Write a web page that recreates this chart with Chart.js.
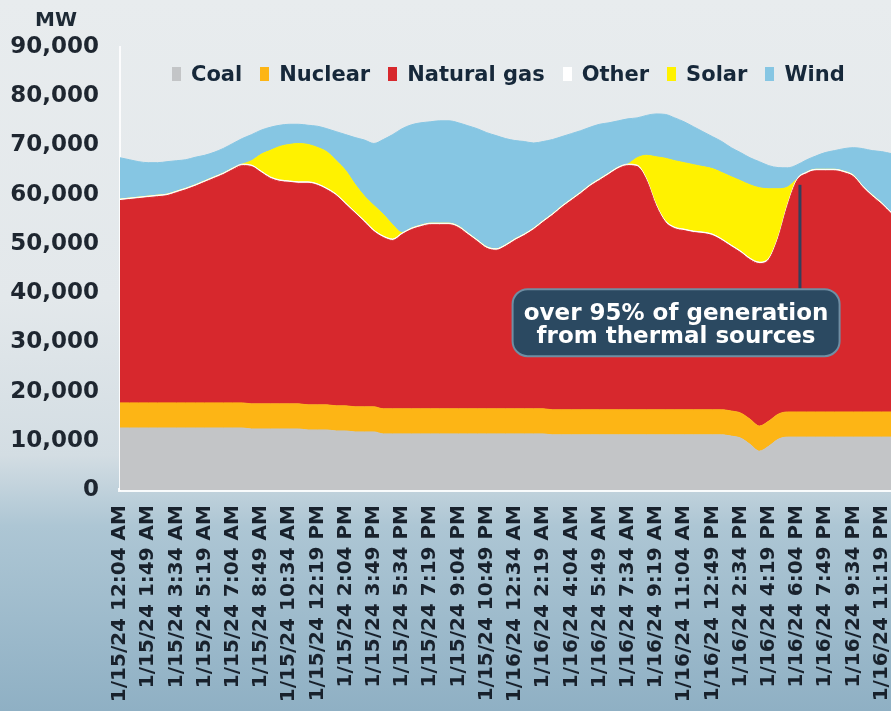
<!DOCTYPE html>
<html>
<head>
<meta charset="utf-8">
<script src="https://cdn.jsdelivr.net/npm/chart.js@4.4.1/dist/chart.umd.min.js"></script>
<style>
  html, body { margin: 0; padding: 0; }
  body {
    width: 891px; height: 711px; overflow: hidden; position: relative;
    background: linear-gradient(180deg, #e8ecee 0%, #e3e8eb 42%, #d3dde3 64%, #adc6d4 74%, #8fb0c4 100%);
    font-family: 'DejaVu Sans', sans-serif;
  }
  #chart { position: absolute; left: 0; top: 0; }
  #unit { position: absolute; left: 35px; top: 7px; font-weight: bold; font-size: 20px; color: #1d2935; }
  #legend { position: absolute; left: 172px; top: 62px; display: flex; align-items: center;
            font-weight: bold; font-size: 21px; color: #16283a; line-height: 24px; white-space: nowrap; }
  #legend .item { display: flex; align-items: center; margin-right: 18px; }
  #legend .box { width: 9px; height: 14px; margin-right: 10px; }
</style>
</head>
<body>
<canvas id="chart" width="891" height="711"></canvas>
<div id="unit">MW</div>
<div id="legend"></div>
<script>
// sample times, minutes after midnight 1/15/24
const sampleMinutes = [4, 39, 74, 109, 144, 179, 214, 249, 284, 319, 354, 389, 424, 459, 494, 529, 564, 599,
  634, 669, 704, 739, 774, 809, 844, 879, 914, 949, 984, 1019, 1054, 1089, 1124, 1159, 1194, 1229, 1264,
  1299, 1334, 1369, 1404, 1439, 1474, 1509, 1544, 1579, 1614, 1649, 1684, 1719, 1754, 1789, 1824, 1859,
  1894, 1929, 1964, 1999, 2034, 2069, 2104, 2139, 2174, 2209, 2244, 2279, 2314, 2349, 2384, 2419, 2454,
  2489, 2524, 2559, 2594, 2629, 2664, 2699, 2734, 2769, 2804, 2839, 2874];

const tickMinutes = [4, 109, 214, 319, 424, 529, 634, 739, 844, 949, 1054, 1159, 1264, 1369, 1474, 1579,
  1684, 1789, 1894, 1999, 2104, 2209, 2314, 2419, 2524, 2629, 2734, 2839];
const tickLabels = ['1/15/24 12:04 AM', '1/15/24 1:49 AM', '1/15/24 3:34 AM', '1/15/24 5:19 AM',
  '1/15/24 7:04 AM', '1/15/24 8:49 AM', '1/15/24 10:34 AM', '1/15/24 12:19 PM', '1/15/24 2:04 PM',
  '1/15/24 3:49 PM', '1/15/24 5:34 PM', '1/15/24 7:19 PM', '1/15/24 9:04 PM', '1/15/24 10:49 PM',
  '1/16/24 12:34 AM', '1/16/24 2:19 AM', '1/16/24 4:04 AM', '1/16/24 5:49 AM', '1/16/24 7:34 AM',
  '1/16/24 9:19 AM', '1/16/24 11:04 AM', '1/16/24 12:49 PM', '1/16/24 2:34 PM', '1/16/24 4:19 PM',
  '1/16/24 6:04 PM', '1/16/24 7:49 PM', '1/16/24 9:34 PM', '1/16/24 11:19 PM'];

const seriesNames = ['Coal', 'Nuclear', 'Natural gas', 'Other', 'Solar', 'Wind'];
const seriesColors = ['#c3c5c7', '#fdb515', '#d7282d', '#ffffff', '#fff200', '#86c6e3'];

// MW
const coal = [12600, 12600, 12600, 12600, 12600, 12600, 12600, 12600, 12600, 12600, 12600, 12600, 12600, 12600,
  12400, 12400, 12400, 12400, 12400, 12400, 12200, 12200, 12200, 12000, 12000, 11800, 11800, 11800,
  11400, 11400, 11400, 11400, 11400, 11400, 11400, 11400, 11400, 11400, 11400, 11400, 11400, 11400, 11400,
  11400, 11400, 11400, 11200, 11200, 11200, 11200, 11200, 11200, 11200, 11200, 11200, 11200, 11200, 11200,
  11200, 11200, 11200, 11200, 11200, 11200, 11200, 10950, 10550, 9300, 7900, 8900, 10300,
  10750, 10750, 10750, 10750, 10750, 10750, 10750, 10750, 10750, 10750, 10750, 10750];
const nuclear = [5100, 5100, 5100, 5100, 5100, 5100, 5100, 5100, 5100, 5100, 5100, 5100, 5100, 5100, 5100, 5100,
  5100, 5100, 5100, 5100, 5100, 5100, 5100, 5100, 5100, 5100, 5100, 5100, 5100, 5100, 5100, 5100, 5100, 5100,
  5100, 5100, 5100, 5100, 5100, 5100, 5100, 5100, 5100, 5100, 5100, 5100, 5100, 5100, 5100, 5100, 5100, 5100,
  5100, 5100, 5100, 5100, 5100, 5100, 5100, 5100, 5100, 5100, 5100, 5100, 5100, 5100, 5100, 5100, 5100, 5100,
  5100, 5100, 5100, 5100, 5100, 5100, 5100, 5100, 5100, 5100, 5100, 5100, 5100];
const naturalGas = [41100, 41300, 41500, 41700, 41900, 42100, 42700, 43300, 44000, 44800,
  45600, 46400, 47400, 48200, 48200, 47000, 45800, 45200, 45000, 44800,
  45000, 44600, 43700, 42700, 40900, 39300, 37500, 35600, 34800, 34200,
  35400, 36400, 37000, 37400, 37400, 37400, 36800, 35400, 34000, 32600,
  32200, 33000, 34200, 35200, 36400, 37900, 39500, 41100, 42500, 43900,
  45400, 46600, 47800, 49000, 49600, 49400, 46600, 41500, 38100, 36800,
  36400, 36000, 35800, 35400, 34400, 33400, 32600, 32400, 33000, 32800,
  35700, 41900, 47000, 48400, 49000, 49000, 49000, 48600, 47800, 45600,
  43800, 42200, 40300];
const other = [300, 300, 300, 300, 300, 300, 300, 300, 300, 300, 300, 300, 300, 300, 300, 300, 300, 300, 300,
  300, 300, 300, 300, 300, 300, 300, 300, 300, 300, 300, 300, 300, 300, 300, 300, 300, 300, 300, 300, 300,
  300, 300, 300, 300, 300, 300, 300, 300, 300, 300, 300, 300, 300, 300, 300, 300, 300, 300, 300, 300, 300,
  300, 300, 300, 300, 300, 300, 300, 300, 300, 300, 300, 300, 300, 300, 300, 300, 300, 300, 300, 300, 300, 300];
const solar = [0, 0, 0, 0, 0, 0, 0, 0, 0, 0, 0, 0, 0, 0,
  900, 3400, 5400, 6800, 7400, 7800, 7600, 7400, 7400, 6800, 6600, 5600, 5000, 5000, 4400, 2900, 100,
  0, 0, 0, 0, 0, 0, 0, 0, 0, 0, 0, 0, 0, 0, 0, 0, 0, 0, 0, 0, 0, 0, 0, 0,
  1500, 4800, 9600, 12700, 13500, 13500, 13500, 13300, 13300, 13500, 13900, 14300, 14900, 15100, 14100, 9800, 3500,
  0, 0, 0, 0, 0, 0, 0, 0, 0, 0, 0];
const wind = [8400, 7800, 7200, 6800, 6600, 6600, 6200, 5800, 5600, 5200,
  5000, 5000, 5000, 5200, 5300, 4900, 4700, 4300, 4100, 3900,
  3900, 4300, 4700, 5900, 7300, 9500, 11400, 12600, 15200, 18300,
  21100, 21000, 20800, 20600, 20800, 20800, 21000, 21800, 22600, 23200,
  23000, 21600, 20000, 18800, 17300, 16100, 15100, 14100, 13300, 12500,
  11700, 11100, 10200, 9400, 9200, 8100, 8100, 8700, 8900, 8700,
  8300, 7700, 7100, 6500, 6300, 5900, 5700, 5500, 5300, 4700,
  4300, 3900, 2900, 2500, 2700, 3400, 3800, 4600, 5600, 7600,
  9000, 10400, 11900];

const seriesValues = [coal, nuclear, naturalGas, other, solar, wind];

const calloutText = ['over 95% of generation', 'from thermal sources'];
const calloutCenter = { x: 2074, y: 34000 };
const calloutAnchor = { x: 2535, y: 62000 };

const calloutPlugin = {
  id: 'callout',
  afterDatasetsDraw(chart) {
    const { ctx, scales: { x, y } } = chart;
    const cx = x.getPixelForValue(calloutCenter.x);
    const cy = y.getPixelForValue(calloutCenter.y);
    const w = 327, h = 67;
    const px = x.getPixelForValue(calloutAnchor.x);
    const py = y.getPixelForValue(calloutAnchor.y);
    ctx.save();
    // pointer up to the evening gas peak
    ctx.strokeStyle = '#33405c';
    ctx.lineWidth = 3;
    ctx.beginPath();
    ctx.moveTo(px, py);
    ctx.lineTo(px, cy - h / 2);
    ctx.stroke();
    ctx.beginPath();
    ctx.roundRect(cx - w / 2, cy - h / 2, w, h, 15);
    ctx.fillStyle = '#2b4961';
    ctx.fill();
    ctx.lineWidth = 2;
    ctx.strokeStyle = '#6f8ea3';
    ctx.stroke();
    ctx.fillStyle = '#ffffff';
    ctx.font = 'bold 23px "DejaVu Sans"';
    ctx.textAlign = 'center';
    ctx.textBaseline = 'middle';
    ctx.fillText(calloutText[0], cx, cy - 9);
    ctx.fillText(calloutText[1], cx, cy + 14);
    ctx.restore();
  }
};

const datasets = seriesNames.map((name, i) => ({
  label: name,
  data: sampleMinutes.map((m, j) => ({ x: m, y: seriesValues[i][j] })),
  backgroundColor: seriesColors[i],
  borderColor: seriesColors[i],
  borderWidth: 1,
  pointRadius: 0,
  fill: i === 0 ? 'origin' : '-1',
  cubicInterpolationMode: 'monotone'
}));

const ctx = document.getElementById('chart').getContext('2d');
const chart = new Chart(ctx, {
  type: 'line',
  data: { datasets: datasets },
  options: {
    responsive: false,
    animation: false,
    layout: { padding: { top: 47, left: 0, right: 0, bottom: 0 } },
    plugins: {
      legend: { display: false },
      tooltip: { enabled: false }
    },
    scales: {
      x: {
        type: 'linear',
        min: sampleMinutes[0],
        max: sampleMinutes[sampleMinutes.length - 1],
        afterBuildTicks: (scale) => { scale.ticks = tickMinutes.map(v => ({ value: v })); },
        afterFit: (scale) => {
          scale.height = 221;
          // the picture is cropped at the right edge, so no room is kept for the last label
          scale.paddingLeft = 0;
          scale.paddingRight = 0;
        },
        ticks: {
          autoSkip: false,
          minRotation: 90,
          maxRotation: 90,
          padding: 15,
          color: '#18212c',
          font: { family: 'DejaVu Sans', size: 20, weight: 'bold' },
          callback: (value, index) => tickLabels[index]
        },
        grid: { display: false, drawTicks: false },
        border: { display: true, color: 'rgba(255,255,255,0.9)', width: 4 }
      },
      y: {
        stacked: true,
        min: 0,
        max: 90000,
        afterFit: (scale) => { scale.width = 120; },
        ticks: {
          stepSize: 10000,
          padding: 21,
          color: '#1e2630',
          font: { family: 'DejaVu Sans', size: 23, weight: 'bold' },
          callback: (value) => value.toLocaleString('en-US')
        },
        grid: { display: false, drawTicks: false },
        border: { display: true, color: 'rgba(255,255,255,0.85)', width: 2 }
      }
    }
  },
  plugins: [calloutPlugin]
});

// legend built from the same names and colours
const legendEl = document.getElementById('legend');
seriesNames.forEach((name, i) => {
  const item = document.createElement('span');
  item.className = 'item';
  const box = document.createElement('span');
  box.className = 'box';
  box.style.background = seriesColors[i];
  item.appendChild(box);
  item.appendChild(document.createTextNode(name));
  legendEl.appendChild(item);
});
</script>
</body>
</html>
